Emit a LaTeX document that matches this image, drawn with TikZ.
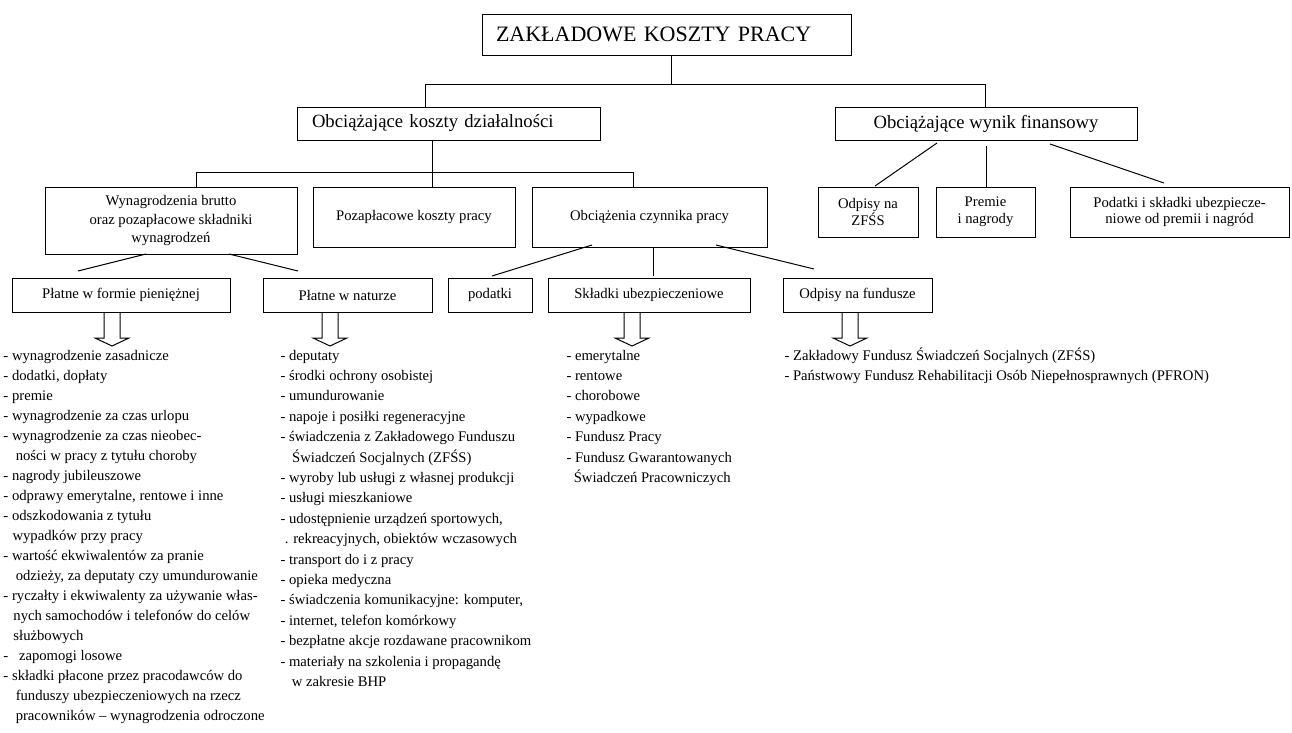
\documentclass[tikz,border=0pt]{standalone}
\usepackage{fontspec}
\setmainfont{Liberation Serif}
\newcommand\fntTitle{\fontsize{16.5}{20}\selectfont}
\newcommand\fntBig{\fontsize{14}{17}\selectfont}
\newcommand\fntBox{\fontsize{11}{13.75}\selectfont}
\newcommand\fntBoxB{\fontsize{11}{12.5}\selectfont}
\newcommand\fntListA{\fontsize{11}{15}\selectfont}
\newcommand\fntListB{\fontsize{11}{15.3}\selectfont}
\begin{document}
\begin{tikzpicture}[x=0.75pt, y=-0.75pt, line width=0.75pt,
  box/.style={draw, inner sep=0pt, line width=0.75pt, anchor=center},
  lsta/.style={anchor=base west, inner sep=0pt, font=\fntListA},
  lstb/.style={anchor=base west, inner sep=0pt, font=\fntListB},
  hollow/.style={line width=0.75pt, line join=miter}]
\useasboundingbox (0,0) rectangle (1292,732);

% level 0
\node[box, minimum width=276.75pt, minimum height=30.75pt, text width=255.75pt, align=left, font=\fntTitle] (T) at (666.5,34.5) {ZAKŁADOWE KOSZTY PRACY};

% level 1
\node[box, minimum width=227.25pt, minimum height=24.75pt, text width=204.75pt, align=left, font=\fntBig] (K) at (448.5,123.5) {Obciążające koszty działalności};
\node[box, minimum width=226.5pt, minimum height=24.75pt, font=\fntBig] (W) at (986,123.5) {Obciążające wynik finansowy};

% level 2
\node[box, minimum width=189pt, minimum height=50.25pt, align=center, font=\fntBox] (WB) at (171,220.5) {Wynagrodzenia brutto\\oraz pozapłacowe składniki\\wynagrodzeń};
\node[box, minimum width=151.5pt, minimum height=45pt, font=\fntBox] (PK) at (414,217) {Pozapłacowe koszty pracy};
\node[box, minimum width=176.25pt, minimum height=45pt, font=\fntBox] (OC) at (649.5,217) {Obciążenia czynnika pracy};
\node[box, minimum width=75pt, minimum height=37.5pt, align=center, font=\fntBoxB] (ZF) at (868,212) {Odpisy na\\ZFŚS};
\node[box, minimum width=74.25pt, minimum height=37.5pt, align=center, font=\fntBoxB] (PR) at (985.5,212) {Premie\\i nagrody};
\node[box, minimum width=164.25pt, minimum height=37.5pt, align=center, font=\fntBoxB] (PS) at (1179.5,212) {Podatki i składki ubezpiecze-\\niowe od premii i nagród};

% level 3
\node[box, minimum width=163.5pt, minimum height=25.5pt, font=\fntBox] (PF) at (121,295) {Płatne w formie pieniężnej};
\node[box, minimum width=126.75pt, minimum height=25.5pt, font=\fntBox] (PN) at (347.5,295) {Płatne w naturze};
\node[box, minimum width=63pt, minimum height=25.5pt, font=\fntBox] (PD) at (490,295) {podatki};
\node[box, minimum width=151.5pt, minimum height=25.5pt, font=\fntBox] (SU) at (649,295) {Składki ubezpieczeniowe};
\node[box, minimum width=111.75pt, minimum height=25.5pt, font=\fntBox] (OF) at (857.5,295) {Odpisy na fundusze};

% tree connectors
\coordinate (j0) at (671,84);
\coordinate (jL) at (425,84);
\coordinate (jR) at (985,84);
\draw (j0 |- T.south) -- (j0);
\draw (jL |- K.north) -- (jL) -- (jR) -- (jR |- W.north);
\coordinate (k0) at (432,172);
\coordinate (kL) at (196,172);
\coordinate (kR) at (633,172);
\draw (k0 |- K.south) -- (k0 |- PK.north);
\draw (kL |- WB.north) -- (kL) -- (kR) -- (kR |- OC.north);

% slanted connectors from "wynik finansowy"
\coordinate (w1) at (937,143); \coordinate (w1e) at (875,186);
\coordinate (w2) at (986,146);
\coordinate (w3) at (1050,144); \coordinate (w3e) at (1164,183);
\draw (w1) -- (w1e);
\draw (w2) -- (w2 |- PR.north);
\draw (w3) -- (w3e);

% slanted connectors from "Wynagrodzenia brutto"
\coordinate (b1) at (146,254); \coordinate (b1e) at (78,271);
\coordinate (b2) at (229,254); \coordinate (b2e) at (298,271);
\draw (b1) -- (b1e);
\draw (b2) -- (b2e);

% connectors from "Obciazenia czynnika pracy"
\coordinate (c1) at (592,245); \coordinate (c1e) at (492,276);
\coordinate (c2) at (653,247); \coordinate (c2e) at (653,276);
\coordinate (c3) at (716,245); \coordinate (c3e) at (814,269);
\draw (c1) -- (c1e);
\draw (c2) -- (c2e);
\draw (c3) -- (c3e);

% hollow arrows
\coordinate (aPF) at (112,312);
\coordinate (aPN) at (330,312);
\coordinate (aSU) at (632,312);
\coordinate (aOF) at (850,312);
\foreach \a in {aPF,aPN,aSU,aOF}{
  \draw[hollow] (\a) ++(-8,0) -- ++(0,26) -- ++(-9,0) -- ++(17,8) -- ++(17,-8) -- ++(-9,0) -- ++(0,-26);
}

% lists
\node[lsta] (L1) at (3,360) {\begin{tabular}[t]{@{}l@{}}
- wynagrodzenie zasadnicze\\
- dodatki, dopłaty\\
- premie\\
- wynagrodzenie za czas urlopu\\
- wynagrodzenie za czas nieobec-\\
\hspace*{9.2pt}ności w pracy z tytułu choroby\\
- nagrody jubileuszowe\\
- odprawy emerytalne, rentowe i inne\\
- odszkodowania z tytułu\\
\hspace*{6.8pt}wypadków przy pracy\\
- wartość ekwiwalentów za pranie\\
\hspace*{9.2pt}odzieży, za deputaty czy umundurowanie\\
- ryczałty i ekwiwalenty za używanie włas-\\
\hspace*{7.5pt}nych samochodów i telefonów do celów\\
\hspace*{7.5pt}służbowych\\
-\hspace*{8pt}zapomogi losowe\\
- składki płacone przez pracodawców do\\
\hspace*{9.2pt}funduszy ubezpieczeniowych na rzecz\\
\hspace*{9.2pt}pracowników – wynagrodzenia odroczone
\end{tabular}};

\node[lstb] (L2) at (280,360) {\begin{tabular}[t]{@{}l@{}}
- deputaty\\
- środki ochrony osobistej\\
- umundurowanie\\
- napoje i posiłki regeneracyjne\\
- świadczenia z Zakładowego Funduszu\\
\hspace*{8.8pt}Świadczeń Socjalnych (ZFŚS)\\
- wyroby lub usługi z własnej produkcji\\
- usługi mieszkaniowe\\
- udostępnienie urządzeń sportowych,\\
\hspace*{3.2pt}. rekreacyjnych, obiektów wczasowych\\
- transport do i z pracy\\
- opieka medyczna\\
- świadczenia komunikacyjne: komputer,\\
- internet, telefon komórkowy\\
- bezpłatne akcje rozdawane pracownikom\\
- materiały na szkolenia i propagandę\\
\hspace*{8.5pt}w zakresie BHP
\end{tabular}};

\node[lstb] (L3) at (566,360) {\begin{tabular}[t]{@{}l@{}}
- emerytalne\\
- rentowe\\
- chorobowe\\
- wypadkowe\\
- Fundusz Pracy\\
- Fundusz Gwarantowanych\\
\hspace*{5.5pt}Świadczeń Pracowniczych
\end{tabular}};

\node[lstb] (L4) at (784,360) {\begin{tabular}[t]{@{}l@{}}
- Zakładowy Fundusz Świadczeń Socjalnych (ZFŚS)\\
- Państwowy Fundusz Rehabilitacji Osób Niepełnosprawnych (PFRON)
\end{tabular}};
\end{tikzpicture}
\end{document}
